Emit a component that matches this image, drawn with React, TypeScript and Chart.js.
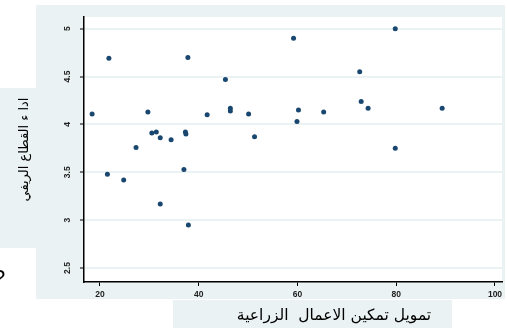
import React, { useEffect, useRef } from "react";
import { Chart, registerables } from "chart.js";

Chart.register(...registerables);

// Data
const financeX = [
  18.4, 21.8, 21.5, 24.8, 27.3, 29.7, 30.5, 31.4, 32.2, 32.2, 34.4, 37.0, 37.3, 37.4, 37.8, 37.9,
  41.7, 45.4, 46.4, 46.4, 50.1, 51.3, 59.2, 60.2, 59.9, 65.3, 72.6, 72.9, 74.3, 79.8, 79.8, 89.3,
];
const performanceY = [
  4.11, 4.69, 3.48, 3.42, 3.76, 4.13, 3.91, 3.92, 3.86, 3.17, 3.84, 3.53, 3.92, 3.9, 4.7, 2.95,
  4.1, 4.47, 4.17, 4.14, 4.11, 3.87, 4.9, 4.15, 4.03, 4.13, 4.55, 4.24, 4.17, 5.0, 3.75, 4.17,
];
const xTickValues = [20, 40, 60, 80, 100];
const yTickValues = [2.5, 3, 3.5, 4, 4.5, 5];
const xTitle = "تمويل تمكين الاعمال  الزراعية";
const yTitle = "ادا ء القطاع الريفي";
const clippedGlyph = "?";

const BG = "#eaf2f3";
const NAVY = "#1a476f";

const panelsPlugin = {
  id: "panels",
  beforeDraw(chart: any) {
    const { ctx, chartArea } = chart;
    ctx.save();
    ctx.fillStyle = "#ffffff";
    ctx.fillRect(0, 0, chart.width, chart.height);
    ctx.fillStyle = BG;
    ctx.fillRect(0, 88, 36, 160);
    ctx.fillRect(36, 5, 469, 294);
    ctx.fillRect(173, 300, 279, 28);
    ctx.fillStyle = "#ffffff";
    ctx.fillRect(chartArea.left, chartArea.top, chartArea.right - chartArea.left, chartArea.bottom - chartArea.top);
    ctx.restore();
  },
  afterDraw(chart: any) {
    const { ctx } = chart;
    ctx.save();
    ctx.fillStyle = "#000000";
    ctx.font = '15.5px "DejaVu Sans", "Liberation Sans", sans-serif';
    ctx.textAlign = "center";
    ctx.textBaseline = "middle";
    ctx.fillText(xTitle, 334, 316);
    ctx.font = '22px "Liberation Sans", sans-serif';
    ctx.fillText(clippedGlyph, -1, 279);
    ctx.restore();
  },
};

export default function App() {
  const ref = useRef<HTMLCanvasElement | null>(null);

  useEffect(() => {
    if (!ref.current) return;
    const chart = new Chart(ref.current, {
      type: "scatter",
      data: {
        datasets: [
          {
            data: financeX.map((x, i) => ({ x, y: performanceY[i] })),
            backgroundColor: NAVY,
            borderColor: NAVY,
            borderWidth: 0,
            pointRadius: 2.5,
            pointStyle: "circle",
          },
        ],
      },
      options: {
        animation: false,
        responsive: false,
        devicePixelRatio: 1,
        layout: { padding: { left: 0, top: 17, right: 5, bottom: 0 } },
        plugins: {
          legend: { display: false },
          tooltip: { enabled: false },
        },
        scales: {
          x: {
            type: "linear",
            min: 16.76,
            max: 101.42,
            afterBuildTicks: (s: any) => {
              s.ticks = xTickValues.map((v) => ({ value: v }));
            },
            afterFit: (s: any) => {
              s.height = 46;
            },
            grid: {
              display: true,
              drawOnChartArea: false,
              drawTicks: true,
              tickLength: 4,
              tickColor: "#000",
              tickWidth: 1,
            },
            border: { display: true, color: "#000", width: 1.5 },
            ticks: {
              padding: 4,
              color: "#222",
              font: { size: 8.5, weight: "bold", family: '"Liberation Sans", Arial, sans-serif' },
              maxRotation: 0,
              minRotation: 0,
              callback: (v: any) => String(v),
            },
          },
          y: {
            type: "linear",
            min: 2.354,
            max: 5.122,
            afterBuildTicks: (s: any) => {
              s.ticks = yTickValues.map((v) => ({ value: v }));
            },
            afterFit: (s: any) => {
              s.width = 84;
            },
            grid: {
              display: true,
              drawOnChartArea: true,
              color: BG,
              lineWidth: 2,
              drawTicks: true,
              tickLength: 4,
              tickColor: "#000",
              tickWidth: 1,
            },
            border: { display: true, color: "#000", width: 1.5 },
            ticks: {
              padding: 6,
              crossAlign: "center",
              minRotation: 90,
              maxRotation: 90,
              color: "#222",
              font: { size: 8.5, weight: "bold", family: '"Liberation Sans", Arial, sans-serif' },
              callback: (v: any) => String(v),
            },
            title: {
              display: true,
              text: yTitle,
              color: "#000",
              font: { size: 13, family: '"DejaVu Sans", "Liberation Sans", sans-serif' },
              padding: { top: 17, bottom: 0 },
            },
          },
        },
      },
      plugins: [panelsPlugin],
    });
    return () => chart.destroy();
  }, []);

  return (
    <div style={{ position: "fixed", left: 0, top: 0, width: 507, height: 328, background: "#fff" }}>
      <canvas ref={ref} width={507} height={328} style={{ display: "block" }} />
    </div>
  );
}
